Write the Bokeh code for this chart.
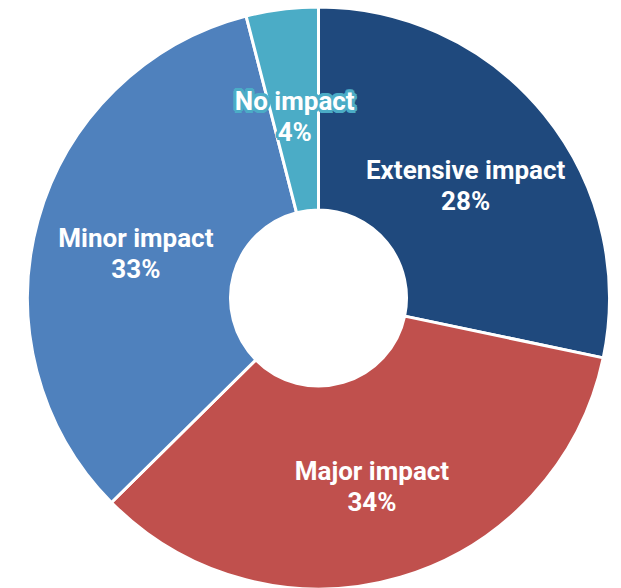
import math
from bokeh.plotting import figure
from bokeh.models import Range1d, ColumnDataSource
from bokeh.core.properties import value
from bokeh.embed import file_html
from bokeh.resources import INLINE

categories = ["Extensive impact", "Major impact", "Minor impact", "No impact"]
shares = [28.3, 34.3, 33.4, 4.0]
colors = ["#1f497d", "#c0504d", "#4f81bd", "#4bacc6"]

total = sum(shares)
starts, ends, mids = [], [], []
cum = 0.0
for s in shares:
    a0 = math.pi / 2 - 2 * math.pi * cum / total
    cum += s
    a1 = math.pi / 2 - 2 * math.pi * cum / total
    starts.append(a0)
    ends.append(a1)
    mids.append((a0 + a1) / 2)

R_OUT = 291
R_IN = 88
R_LAB = (R_OUT + R_IN) / 2

src = ColumnDataSource(dict(
    start=starts, end=ends, color=colors,
    x=[0] * 4, y=[0] * 4,
))

lx = [R_LAB * math.cos(m) for m in mids]
ly = [R_LAB * math.sin(m) for m in mids]
names = categories
pcts = ["%d%%" % round(s) for s in shares]

lab = ColumnDataSource(dict(x=lx, y=ly, name=names, pct=pcts, color=colors))

# narrow slices get a halo in their own colour so the label stays legible
narrow = [i for i, s in enumerate(shares) if s / total < 0.1]
halo = ColumnDataSource(dict(
    x=[lx[i] for i in narrow], y=[ly[i] for i in narrow],
    name=[names[i] for i in narrow], pct=[pcts[i] for i in narrow],
    color=[colors[i] for i in narrow],
))

p = figure(width=621, height=588, output_backend="svg", toolbar_location=None,
           x_range=Range1d(-318, 303), y_range=Range1d(-290.5, 297.5),
           min_border=0)
p.axis.visible = False
p.grid.visible = False
p.outline_line_color = None
p.background_fill_color = "white"

p.annular_wedge(x="x", y="y", inner_radius=R_IN, outer_radius=R_OUT,
                start_angle="start", end_angle="end", direction="clock",
                fill_color="color", line_color="white", line_width=3,
                source=src)

FS = "26px"
OFFS = (("name", -9), ("pct", 22))

for k in range(12):
    a = 2 * math.pi * k / 12
    dx, dy = 3 * math.cos(a), 3 * math.sin(a)
    for col, yoff in OFFS:
        p.text(x="x", y="y", text=col, source=halo, x_offset=dx, y_offset=yoff + dy,
               text_align="center", text_baseline="middle",
               text_font=value("Roboto"), text_font_style="bold",
               text_font_size=FS, text_color="color")

for col, yoff in OFFS:
    p.text(x="x", y="y", text=col, source=lab, y_offset=yoff,
           text_align="center", text_baseline="middle",
           text_font=value("Roboto"), text_font_style="bold",
           text_font_size=FS, text_color="white")

open("out.html", "w").write(file_html(p, INLINE))
